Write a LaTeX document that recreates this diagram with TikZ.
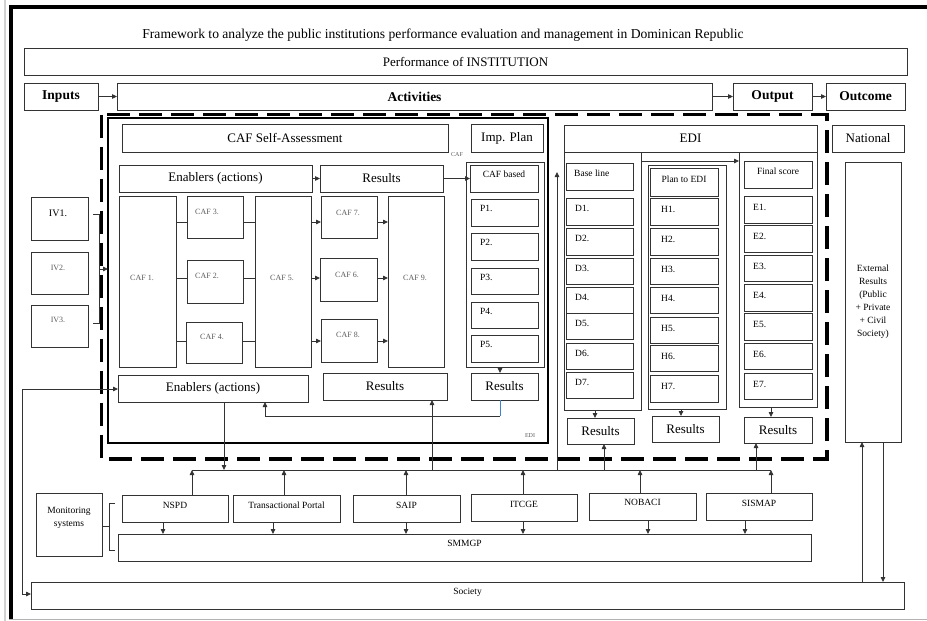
\documentclass[tikz,border=0pt]{standalone}
\usepackage{fontspec}
\setmainfont{Liberation Serif}
\usetikzlibrary{arrows.meta,calc}

\definecolor{ink}{gray}{0.2}
\definecolor{softgray}{gray}{0.35}
\definecolor{linkblue}{RGB}{60,130,210}

\tikzset{
  box/.style={draw=ink, line width=0.9pt, inner sep=0pt, outer sep=0pt},
  hdr/.style={font=\fontsize{13}{15}\selectfont},
  bold/.style={font=\fontsize{13.5}{15}\selectfont\bfseries},
  sm/.style={font=\fontsize{9.5}{13}\selectfont, inner sep=0pt},
  cafl/.style={font=\fontsize{8}{10}\selectfont, text=softgray, inner sep=0pt},
  tiny/.style={font=\fontsize{6}{7}\selectfont, text=softgray, inner sep=0pt},
  wire/.style={draw=ink, line width=0.8pt},
  arr/.style={draw=ink, line width=0.8pt, -{Triangle[length=5pt,width=4.5pt]}},
  twoarr/.style={draw=ink, line width=0.8pt, {Triangle[length=5pt,width=4.5pt]}-{Triangle[length=5pt,width=4.5pt]}},
}

% box from (x1,y1) to (x2,y2), y measured downward
\newcommand{\boxat}[7][]{%
  \node[box,minimum width={#5-#3},minimum height={#6-#4},#1] (#2) at ({(#3+#5)/2},{(#4+#6)/2}) {#7};}

\begin{document}
\begin{tikzpicture}[x=1pt,y=-1pt]
\useasboundingbox (0,0) rectangle (927,621);

% outer frame
\draw[gray!35, line width=1.5pt] (5,0) -- (5,621);
\draw[black, line width=3.5pt] (9,7) -- (927,7);
\draw[black, line width=3.5pt] (11,5.5) -- (11,619);
\draw[gray!60, line width=1pt] (9,619) -- (927,619);

% title
\node[font=\fontsize{13.6}{15}\selectfont, inner sep=0pt] (title) at (443,35) {Framework to analyze the public institutions performance evaluation and management in Dominican Republic};

% top band
\boxat[hdr]{perf}{24}{48}{907}{75}{Performance of INSTITUTION}
\boxat[bold]{inputs}{24}{83}{98}{110}{Inputs}
\boxat[bold]{activities}{117}{83}{712}{110}{Activities}
\boxat[bold]{output}{733}{83}{812}{110}{Output}
\boxat[bold]{outcome}{826}{83}{905}{110}{Outcome}
\draw[arr] (inputs) -- (activities);
\draw[arr] (activities) -- (output);
\draw[arr] (output) -- (outcome);

% dashed institution boundary and CAF area
\draw[black, line width=3.5pt, dash pattern=on 23pt off 9pt] (101.5,114.5) rectangle (827,459);
\draw[black, line width=1.8pt] (108,118) rectangle (548,443);
\node[tiny] (caflbl) at (457,155) {CAF};
\node[tiny] (edilbl) at (530,436) {EDI};

% CAF self-assessment
\boxat[hdr]{cafsa}{122}{124}{448}{152}{CAF Self-Assessment}
\boxat[hdr]{impplan}{471}{124}{543}{152}{Imp. Plan}
\boxat[hdr]{enab1}{119}{165}{312}{192}{Enablers (actions)}
\boxat[hdr]{res1}{320}{165}{443}{192}{Results}
\draw[arr] (enab1) -- (res1);

\boxat{cafgrp}{466}{162}{544}{367}{}
\boxat{cafbased}{470}{165}{538}{192}{}
\node[sm] (cafbasedt) at ($(cafbased.north)+(0,9)$) {CAF based};
\draw[arr] (res1) -- (cafbased);
\foreach \i/\t/\b in {1/199/226,2/233/260,3/268/294,4/302/328,5/335/362}{
  \boxat{p\i}{471}{\t}{538}{\b}{}
  \node[sm, anchor=west] (p\i t) at ($(p\i.north west)+(9,9)$) {P\i.};
}
\boxat[hdr]{resP}{471}{373}{538}{400}{Results}
\draw[arr] (cafgrp.south -| 500,0) -- (resP.north -| 500,0);

% CAF criteria grid
\boxat{caf1}{119}{196}{176}{367}{}
\boxat{caf3}{187}{196}{243}{238}{}
\boxat{caf2}{187}{260}{243}{303}{}
\boxat{caf4}{186}{322}{242}{363}{}
\boxat{caf5}{255}{196}{311}{367}{}
\boxat{caf7}{321}{196}{377}{238}{}
\boxat{caf6}{320}{258}{377}{301}{}
\boxat{caf8}{321}{319}{377}{362}{}
\boxat{caf9}{388}{196}{444}{367}{}
\node[cafl] (caf1t) at (142,278) {CAF 1.};
\node[cafl] (caf3t) at (207,212) {CAF 3.};
\node[cafl] (caf2t) at (207,276) {CAF 2.};
\node[cafl] (caf4t) at (212,337) {CAF 4.};
\node[cafl] (caf5t) at (282,278) {CAF 5.};
\node[cafl] (caf7t) at (348,213) {CAF 7.};
\node[cafl] (caf6t) at (347,275) {CAF 6.};
\node[cafl] (caf8t) at (348,335) {CAF 8.};
\node[cafl] (caf9t) at (415,278) {CAF 9.};
\foreach \m/\y in {caf3/222,caf2/278,caf4/341}{
  \draw[wire] (caf1.east |- 0,\y) -- (\m.west |- 0,\y);
  \draw[wire] (\m.east |- 0,\y) -- (caf5.west |- 0,\y);
}
\foreach \m/\y in {caf7/222,caf6/278,caf8/341}{
  \draw[arr] (caf5.east |- 0,\y) -- (\m.west |- 0,\y);
  \draw[arr] (\m.east |- 0,\y) -- (caf9.west |- 0,\y);
}

\boxat[hdr]{enab2}{118}{375}{308}{402}{Enablers (actions)}
\boxat[hdr]{res2}{323}{373}{447}{400}{Results}

% improvement-plan feedback to enablers
\coordinate (fbC) at (500,416);
\coordinate (fbD) at (265,416);
\draw[linkblue, line width=0.8pt] (resP.south -| 500,0) -- (fbC);
\draw[arr] (fbC) -- (fbD) -- (enab2.south -| fbD);

% independent variables
\boxat{iv1}{31}{197}{88}{240}{}
\boxat{iv2}{31}{252}{88}{294}{}
\boxat{iv3}{31}{305}{88}{347}{}
\node[sm, font=\fontsize{10}{12}\selectfont] (iv1t) at (58,213) {IV1.};
\node[cafl] (iv2t) at (58,268) {IV2.};
\node[cafl] (iv3t) at (58,320) {IV3.};
\draw[wire] (93,214) -- (99,214) -- (99,323) -- (93,323);
\coordinate (ivm) at (99,269);
\draw[arr] (ivm) -- (108,269);

% EDI
\boxat[hdr]{edi}{564}{125}{817}{152}{EDI}
\boxat{col1}{564}{152}{641}{410}{}
\boxat{col2}{648}{165}{726}{409}{}
\boxat{col3}{739}{152}{817}{407}{}
\boxat{baseline}{566}{163}{633}{190}{}
\node[sm, anchor=west] (baselinet) at ($(baseline.north west)+(8,10)$) {Base line};
\boxat{plan}{650}{168}{718}{196}{}
\node[sm] (plant) at ($(plan.north)+(0,11)$) {Plan to EDI};
\boxat{final}{744}{161}{812}{188}{}
\node[sm] (finalt) at ($(final.north)+(0,10)$) {Final score};
\foreach \i/\t/\b in {1/198/225,2/228/255,3/258/284,4/287/313,5/313/339,6/343/369,7/372/398}{
  \boxat{d\i}{566}{\t}{633}{\b}{}
  \node[sm, anchor=west] (d\i t) at ($(d\i.north west)+(9,10)$) {D\i.};
}
\foreach \i/\t/\b in {1/198/225,2/228/255,3/258/284,4/287/313,5/317/343,6/345/371,7/375/402}{
  \boxat{h\i}{650}{\t}{718}{\b}{}
  \node[sm, anchor=west] (h\i t) at ($(h\i.north west)+(11,11)$) {H\i.};
}
\foreach \i/\t/\b in {1/196/223,2/225/252,3/255/281,4/284/311,5/313/340,6/343/369,7/373/399}{
  \boxat{e\i}{744}{\t}{812}{\b}{}
  \node[sm, anchor=west] (e\i t) at ($(e\i.north west)+(9,11)$) {E\i.};
}
\draw[arr] (col1.north east |- 0,161) -- (col3.west |- 0,161);
\boxat[hdr]{resD}{567}{418}{634}{444}{Results}
\boxat[hdr]{resH}{652}{416}{719}{442}{Results}
\boxat[hdr]{resE}{744}{417}{812}{443}{Results}
\draw[arr] (col1.south -| 595,0) -- (resD.north -| 595,0);
\draw[arr] (col2.south -| 681,0) -- (resH.north -| 681,0);
\draw[arr] (col3.south -| 771,0) -- (resE.north -| 771,0);

% national level
\boxat[hdr]{national}{832}{125}{904}{152}{National}
\boxat[sm, align=center]{external}{845}{162}{901}{442}{External\\Results\\(Public\\+ Private\\+ Civil\\Society)}

% monitoring systems
\boxat[sm, align=center]{monitor}{36}{493}{102}{556}{Monitoring\\systems\\[3pt]}
\boxat{nspd}{122}{495}{228}{522}{}
\boxat{tp}{233}{495}{340}{522}{}
\boxat{saip}{353}{495}{460}{522}{}
\boxat{itcge}{471}{494}{577}{521}{}
\boxat{nobaci}{589}{493}{696}{520}{}
\boxat{sismap}{706}{493}{812}{520}{}
\node[sm] (nspdt) at ($(nspd.north)+(0,10)$) {NSPD};
\node[sm] (tpt) at ($(tp.north)+(0,10)$) {Transactional Portal};
\node[sm] (saipt) at ($(saip.north)+(0,10)$) {SAIP};
\node[sm] (itcget) at ($(itcge.north)+(0,10)$) {ITCGE};
\node[sm] (nobacit) at ($(nobaci.north)+(0,9)$) {NOBACI};
\node[sm] (sismapt) at ($(sismap.north)+(0,10)$) {SISMAP};
\boxat{smmgp}{118}{534}{811}{561}{}
\node[sm] (smmgpt) at ($(smmgp.north)+(0,9)$) {SMMGP};
\draw[wire] (monitor.east |- 0,526) -- (109,526);
\draw[wire] (115,503) -- (109,503) -- (109,550) -- (115,550);

% links from monitoring systems to SMMGP
\foreach \m/\x in {nspd/163,tp/273,saip/406,itcge/523,nobaci/648,sismap/745}{
  \draw[arr] (\m.south -| \x,0) -- (smmgp.north -| \x,0);
}

% shared bus towards the institution
\coordinate (busL) at (192,470);
\coordinate (busR) at (771,470);
\draw[wire] (busL) -- (busR);
\foreach \m/\x in {nspd/192,tp/284,saip/406,itcge/523,nobaci/640,sismap/771}{
  \draw[arr] (\m.north -| \x,0) -- (\x,470);
}
\draw[arr] (enab2.south -| 224,0) -- (224,470);
\draw[arr] (432,470) -- (res2.south -| 432,0);
\coordinate (ediup) at (557,172);
\draw[arr] (557,470) -- (ediup);
\draw[arr] (604,470) -- (resD.south -| 604,0);
\draw[arr] (756,470) -- (resE.south -| 756,0);

% society
\boxat{society}{31}{582}{904}{609}{}
\node[sm] (societyt) at ($(society.north)+(0,10)$) {Society};
\coordinate (fbA) at (22,389);
\coordinate (fbB) at (22,594);
\draw[twoarr] (enab2.west |- fbA) -- (fbA) -- (fbB) -- (society.west |- fbB);
\draw[arr] (society.north -| 862,0) -- (external.south -| 862,0);
\draw[arr] (external.south -| 883,0) -- (society.north -| 883,0);
\end{tikzpicture}
\end{document}
